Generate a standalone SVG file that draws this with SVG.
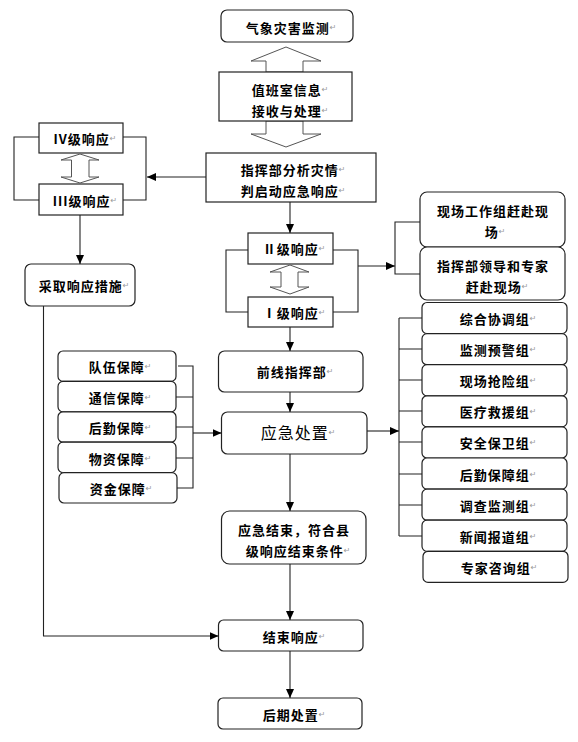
<svg xmlns="http://www.w3.org/2000/svg" width="578" height="742" viewBox="0 0 578 742">
<defs>
<marker id="ah" markerWidth="10" markerHeight="8" refX="9" refY="4" orient="auto" markerUnits="userSpaceOnUse">
<path d="M0,0 L9,4 L0,8 Z" fill="#000"/>
</marker>
<style>
.b{fill:#fff;stroke:#222;stroke-width:1.2}
.ba{fill:#fff;stroke:#555;stroke-width:1}
.t{font-family:"Noto Sans CJK SC","DejaVu Sans",sans-serif;font-size:13px;font-weight:bold;letter-spacing:1px;fill:#000;text-anchor:middle;dominant-baseline:central}
.big{font-size:16px;font-weight:normal}
.p{font-family:"DejaVu Sans",sans-serif;font-size:8px;font-weight:normal;fill:#999;letter-spacing:0}
.c{fill:none;stroke:#222;stroke-width:1.1}
</style>
</defs>
<rect width="578" height="742" fill="#fff"/>

<g id="n-monitor"><rect class="b" x="221" y="10" width="132" height="32" rx="6"/><text class="t" x="291" y="27">气象灾害监测<tspan class="p">↵</tspan></text></g>

<g id="n-arrows-duty">
<polygon class="ba" points="286,47 321,61 303,61 303,72 266,72 266,61 251,61"/>
<polygon class="ba" points="266,121 303,121 303,134 321,134 286,147 251,134 266,134"/>
</g>
<g id="n-duty"><rect class="b" x="219" y="72" width="133" height="49"/><text class="t" x="290" y="89">值班室信息<tspan class="p">↵</tspan></text><text class="t" x="290" y="110">接收与处理<tspan class="p">↵</tspan></text></g>

<g id="n-command"><rect class="b" x="206" y="153" width="170" height="49"/><text class="t" x="293" y="169">指挥部分析灾情<tspan class="p">↵</tspan></text><text class="t" x="293" y="190">判启动应急响应<tspan class="p">↵</tspan></text></g>

<g id="n-lv4"><rect class="b" x="39" y="123" width="84" height="30"/><text class="t" x="85" y="138">IV级响应<tspan class="p">↵</tspan></text></g>
<g id="n-lv3"><rect class="b" x="39" y="184" width="84" height="31"/><text class="t" x="85" y="200">III级响应<tspan class="p">↵</tspan></text></g>
<g id="n-dbl1"><polygon class="ba" points="80,154 99,160 89,160 89,177 99,177 80,183 61,177 71.5,177 71.5,160 61,160"/></g>

<g id="n-measures"><rect class="b" x="25" y="264" width="110" height="42" rx="6"/><text class="t" x="84" y="285">采取响应措施<tspan class="p">↵</tspan></text></g>

<g id="n-lv2"><rect class="b" x="248" y="233" width="85" height="31"/><text class="t" x="294" y="248">Ⅱ级响应<tspan class="p">↵</tspan></text></g>
<g id="n-lv1"><rect class="b" x="248" y="297" width="85" height="30"/><text class="t" x="294" y="312">Ⅰ级响应<tspan class="p">↵</tspan></text></g>
<g id="n-dbl2"><polygon class="ba" points="290,265 309,272 298,272 298,287 309,287 290,294 270,287 281,287 281,272 270,272"/></g>

<g id="n-site"><rect class="b" x="420" y="192" width="145" height="55" rx="7"/><text class="t" x="493" y="210">现场工作组赶赴现</text><text class="t" x="495" y="231">场<tspan class="p">↵</tspan></text></g>
<g id="n-leaders"><rect class="b" x="420" y="247" width="145" height="53" rx="7"/><text class="t" x="493" y="265">指挥部领导和专家</text><text class="t" x="497" y="286">赶赴现场<tspan class="p">↵</tspan></text></g>

<g id="n-front"><rect class="b" x="218.5" y="351" width="144.5" height="41" rx="6"/><text class="t" x="295" y="371">前线指挥部<tspan class="p">↵</tspan></text></g>
<g id="n-dispose"><rect class="b" x="221.5" y="412" width="145.5" height="42" rx="6"/><text class="t big" x="298" y="432">应急处置<tspan class="p">↵</tspan></text></g>
<g id="n-end-cond"><rect class="b" x="221.5" y="511" width="144.5" height="53" rx="8"/><text class="t" x="294" y="529">应急结束，符合县</text><text class="t" x="298" y="550">级响应结束条件<tspan class="p">↵</tspan></text></g>
<g id="n-end"><rect class="b" x="218.5" y="620" width="144.5" height="31" rx="5"/><text class="t" x="294" y="636">结束响应<tspan class="p">↵</tspan></text></g>
<g id="n-after"><rect class="b" x="218" y="698" width="144" height="31" rx="5"/><text class="t" x="294" y="714">后期处置<tspan class="p">↵</tspan></text></g>

<g id="n-left-group">
<g id="n-team"><rect class="b" x="58" y="351" width="118" height="30.4" rx="5"/><text class="t" x="120" y="366">队伍保障<tspan class="p">↵</tspan></text></g>
<g id="n-comm"><rect class="b" x="58" y="381.4" width="118" height="30.4" rx="5"/><text class="t" x="120" y="397">通信保障<tspan class="p">↵</tspan></text></g>
<g id="n-logi"><rect class="b" x="58" y="411.8" width="118" height="30.4" rx="5"/><text class="t" x="120" y="427">后勤保障<tspan class="p">↵</tspan></text></g>
<g id="n-mat"><rect class="b" x="58" y="442.2" width="118" height="30.4" rx="5"/><text class="t" x="120" y="458">物资保障<tspan class="p">↵</tspan></text></g>
<g id="n-fund"><rect class="b" x="59" y="472.6" width="118" height="30.4" rx="5"/><text class="t" x="121" y="488">资金保障<tspan class="p">↵</tspan></text></g>
</g>

<g id="n-right-group">
<g id="n-g1"><rect class="b" x="422" y="302.5" width="145" height="31.1" rx="5"/><text class="t" x="498" y="318">综合协调组<tspan class="p">↵</tspan></text></g>
<g id="n-g2"><rect class="b" x="422" y="333.6" width="145" height="31.1" rx="5"/><text class="t" x="498" y="349">监测预警组<tspan class="p">↵</tspan></text></g>
<g id="n-g3"><rect class="b" x="422" y="364.7" width="145" height="31.1" rx="5"/><text class="t" x="498" y="380">现场抢险组<tspan class="p">↵</tspan></text></g>
<g id="n-g4"><rect class="b" x="422" y="395.8" width="145" height="31.1" rx="5"/><text class="t" x="498" y="411">医疗救援组<tspan class="p">↵</tspan></text></g>
<g id="n-g5"><rect class="b" x="422" y="426.9" width="145" height="31.1" rx="5"/><text class="t" x="498" y="442">安全保卫组<tspan class="p">↵</tspan></text></g>
<g id="n-g6"><rect class="b" x="422" y="458" width="145" height="31.1" rx="5"/><text class="t" x="498" y="474">后勤保障组<tspan class="p">↵</tspan></text></g>
<g id="n-g7"><rect class="b" x="422" y="489.1" width="145" height="31.1" rx="5"/><text class="t" x="498" y="505">调查监测组<tspan class="p">↵</tspan></text></g>
<g id="n-g8"><rect class="b" x="422" y="520.2" width="145" height="31.1" rx="5"/><text class="t" x="498" y="536">新闻报道组<tspan class="p">↵</tspan></text></g>
<g id="n-g9"><rect class="b" x="423" y="551.3" width="145" height="31.1" rx="5"/><text class="t" x="499" y="567">专家咨询组<tspan class="p">↵</tspan></text></g>
</g>

<g id="connectors">
<path class="c" d="M206,177 H147" marker-end="url(#ah)"/>
<path class="c" d="M39,137 H14 V200 H39 M123,137 H146 V200 H123"/>
<path class="c" d="M80,215 V264" marker-end="url(#ah)"/>
<path class="c" d="M43.5,306 V636 H218.5" marker-end="url(#ah)"/>
<path class="c" d="M290,202 V233" marker-end="url(#ah)"/>
<path class="c" d="M248,250 H226 V312 H248 M333,250 H358 V312 H333"/>
<path class="c" d="M358,266 H395" marker-end="url(#ah)"/>
<path class="c" d="M420,222 H395 V274 H420"/>
<path class="c" d="M290,327 V351" marker-end="url(#ah)"/>
<path class="c" d="M290,392 V412" marker-end="url(#ah)"/>
<path class="c" d="M290,454 V511" marker-end="url(#ah)"/>
<path class="c" d="M290,564 V620" marker-end="url(#ah)"/>
<path class="c" d="M290,651 V698" marker-end="url(#ah)"/>
<path class="c" d="M178,366 H193 V488 H177 M176,397 H193 M176,427 H193 M176,458 H193"/>
<path class="c" d="M193,433 H221.5" marker-end="url(#ah)"/>
<path class="c" d="M367,431 H399" marker-end="url(#ah)"/>
<path class="c" d="M399,318 V536 M399,318 H422 M399,349 H422 M399,380 H422 M399,411 H422 M399,442 H422 M399,474 H422 M399,505 H422 M399,536 H422"/>
</g>
</svg>
